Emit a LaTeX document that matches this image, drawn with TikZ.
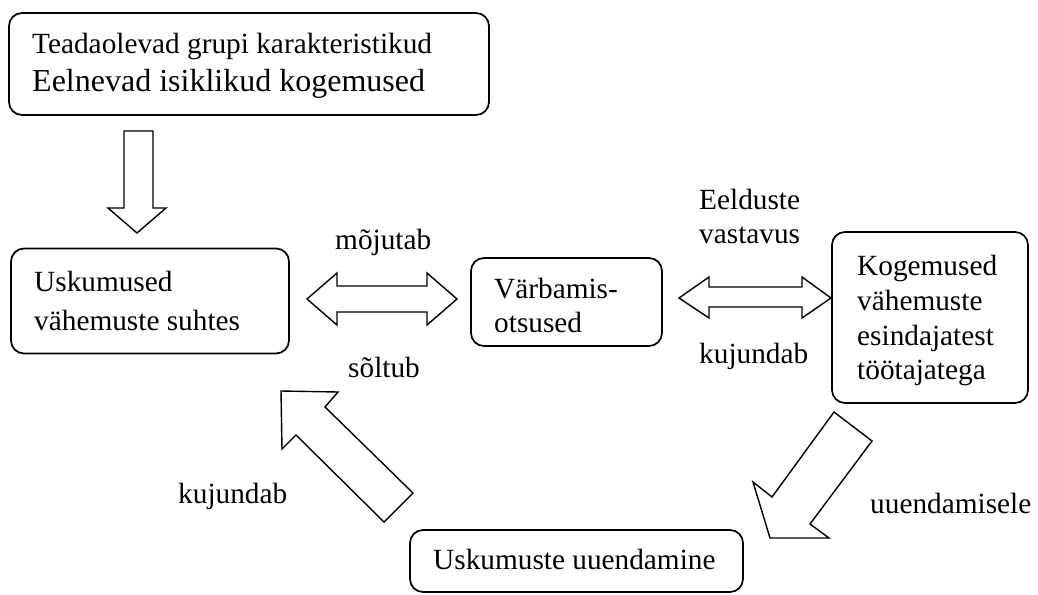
\documentclass[tikz,border=0pt]{standalone}
\usepackage{fontspec}
\setmainfont{Liberation Serif}
\begin{document}
\begin{tikzpicture}[x=1pt,y=-1pt,
  box/.style={draw,line width=1.7pt,rounded corners=13pt,inner sep=0pt},
  blockarrow/.style={draw,line width=1.4pt,line join=miter,fill=white},
  txt/.style={anchor=base west,inner sep=0pt,font=\fontsize{29.3}{34}\selectfont},
  bigtxt/.style={anchor=base west,inner sep=0pt,font=\fontsize{32}{38}\selectfont}]
\useasboundingbox (0,0) rectangle (1038,594);
% boxes
\node[box,minimum width=480pt,minimum height=102pt] (top) at (249,64) {};
\node[box,minimum width=278pt,minimum height=105pt] (left) at (150,301) {};
\node[box,minimum width=191pt,minimum height=88pt] (mid) at (566.5,302) {};
\node[box,minimum width=196pt,minimum height=171pt] (right) at (930,317.5) {};
\node[box,minimum width=333pt,minimum height=62pt] (bottom) at (576.5,561) {};
% box texts
\node[txt] (t1) at (32,53) {Teadaolevad grupi karakteristikud};
\node[bigtxt] (t2) at (32,91) {Eelnevad isiklikud kogemused};
\node[txt] (l1) at (34,291) {Uskumused};
\node[txt] (l2) at (34,330) {vähemuste suhtes};
\node[txt] (m1) at (494,298) {Värbamis-};
\node[txt] (m2) at (494,332) {otsused};
\node[txt] (r1) at (857,275) {Kogemused};
\node[txt] (r2) at (857,310) {vähemuste};
\node[txt] (r3) at (857,345) {esindajatest};
\node[txt] (r4) at (857,379) {töötajatega};
\node[txt] (b1) at (433,569) {Uskumuste uuendamine};
% labels
\node[txt] (lab1) at (335,249) {mõjutab};
\node[txt] (lab2) at (348,377) {sõltub};
\node[txt] (lab3) at (699,209) {Eelduste};
\node[txt] (lab4) at (699,243) {vastavus};
\node[txt] (lab5) at (699,363) {kujundab};
\node[txt] (lab6) at (178,503) {kujundab};
\node[txt] (lab7) at (870,513) {uuendamisele};
% block arrows
\draw[blockarrow] (124,131) -- (153,131) -- (153,208) -- (166,208) -- (137,233) -- (108,208) -- (124,208) -- cycle;
\draw[blockarrow] (307,299) -- (337,273) -- (337,286) -- (427,286) -- (427,273) -- (457,299) -- (427,325) -- (427,312) -- (337,312) -- (337,325) -- cycle;
\draw[blockarrow] (679,298) -- (709,277) -- (709,287) -- (802,287) -- (802,277) -- (831,298) -- (802,318) -- (802,307) -- (709,307) -- (709,318) -- cycle;
\draw[blockarrow] (281,391) -- (338,392) -- (325,407) -- (413,493) -- (384,522) -- (296,435) -- (282,449) -- cycle;
\draw[blockarrow] (834,412) -- (872,441) -- (810,524) -- (829,538) -- (770,538) -- (753,482) -- (772,497) -- cycle;
\end{tikzpicture}
\end{document}
